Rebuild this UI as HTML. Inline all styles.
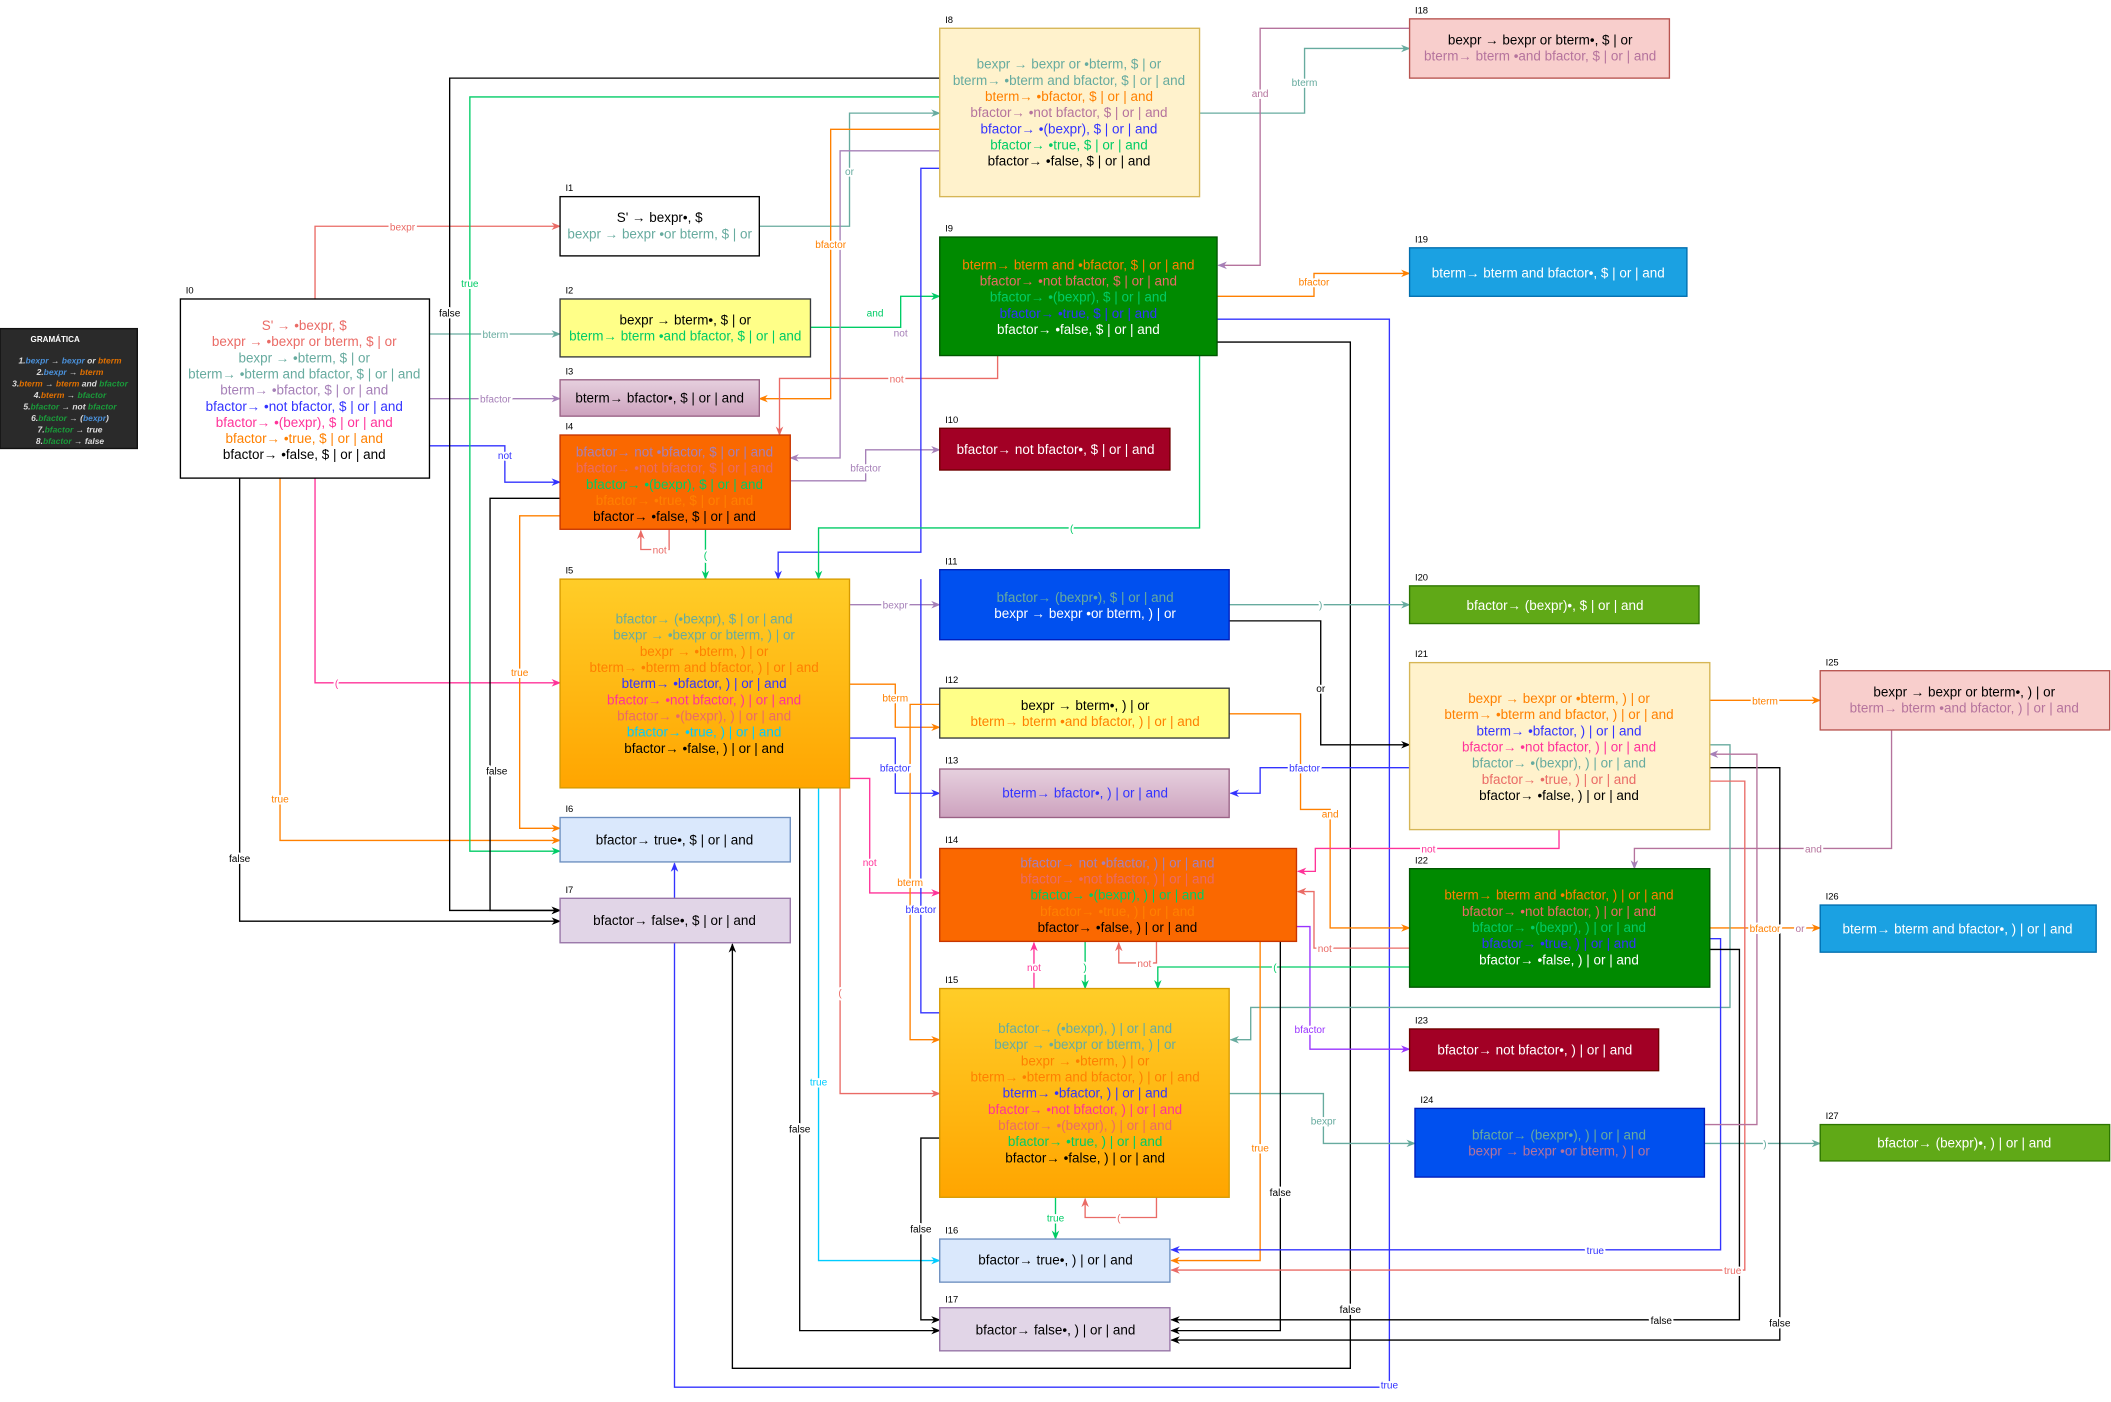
<!DOCTYPE html>
<html><head><meta charset="utf-8"><style>
html,body{margin:0;padding:0;background:#fff;}
svg{display:block;}
text{font-family:"Liberation Sans",sans-serif;}
.bx{font-size:10px;text-anchor:middle;}
.lb{font-size:7px;}
.el{font-size:7.5px;text-anchor:middle;paint-order:stroke;stroke:#fff;stroke-width:3px;stroke-linejoin:round;}
polyline{fill:none;stroke-width:1;}
</style></head><body>
<svg width="2111" height="1402" viewBox="0 0 1568 1041" preserveAspectRatio="none" xmlns="http://www.w3.org/2000/svg">
<defs>
<marker id="aR" viewBox="0 0 10 10" refX="9" refY="5" markerWidth="7" markerHeight="7" orient="auto"><path d="M0,1 L10,5 L0,9 L3,5z" fill="#ea6b66"/></marker>
<marker id="aT" viewBox="0 0 10 10" refX="9" refY="5" markerWidth="7" markerHeight="7" orient="auto"><path d="M0,1 L10,5 L0,9 L3,5z" fill="#67ab9f"/></marker>
<marker id="aP" viewBox="0 0 10 10" refX="9" refY="5" markerWidth="7" markerHeight="7" orient="auto"><path d="M0,1 L10,5 L0,9 L3,5z" fill="#a680b8"/></marker>
<marker id="aB" viewBox="0 0 10 10" refX="9" refY="5" markerWidth="7" markerHeight="7" orient="auto"><path d="M0,1 L10,5 L0,9 L3,5z" fill="#3333ff"/></marker>
<marker id="aK" viewBox="0 0 10 10" refX="9" refY="5" markerWidth="7" markerHeight="7" orient="auto"><path d="M0,1 L10,5 L0,9 L3,5z" fill="#000"/></marker>
<marker id="aO" viewBox="0 0 10 10" refX="9" refY="5" markerWidth="7" markerHeight="7" orient="auto"><path d="M0,1 L10,5 L0,9 L3,5z" fill="#ff8000"/></marker>
<marker id="aG" viewBox="0 0 10 10" refX="9" refY="5" markerWidth="7" markerHeight="7" orient="auto"><path d="M0,1 L10,5 L0,9 L3,5z" fill="#00cc66"/></marker>
<marker id="aK2" viewBox="0 0 10 10" refX="9" refY="5" markerWidth="7" markerHeight="7" orient="auto"><path d="M0,1 L10,5 L0,9 L3,5z" fill="#ff3399"/></marker>
<marker id="aC" viewBox="0 0 10 10" refX="9" refY="5" markerWidth="7" markerHeight="7" orient="auto"><path d="M0,1 L10,5 L0,9 L3,5z" fill="#00ccff"/></marker>
<marker id="aV" viewBox="0 0 10 10" refX="9" refY="5" markerWidth="7" markerHeight="7" orient="auto"><path d="M0,1 L10,5 L0,9 L3,5z" fill="#9933ff"/></marker>
<linearGradient id="gY" x1="0" y1="0" x2="0" y2="1"><stop offset="0" stop-color="#ffcd28"/><stop offset="1" stop-color="#ffa500"/></linearGradient>
<linearGradient id="gP" x1="0" y1="0" x2="0" y2="1"><stop offset="0" stop-color="#e6d0de"/><stop offset="1" stop-color="#cda2be"/></linearGradient>
</defs>

<g>
<polyline points="234,222 234,168 416,168" stroke="#ea6b66" marker-end="url(#aR)"/>
<polyline points="319,248 416,248" stroke="#67ab9f" marker-end="url(#aT)"/>
<polyline points="319,296 416,296" stroke="#a680b8" marker-end="url(#aP)"/>
<polyline points="319,331 375,331 375,358 416,358" stroke="#3333ff" marker-end="url(#aB)"/>
<polyline points="178,355 178,684 416,684" stroke="#000" marker-end="url(#aK)"/>
<polyline points="208,355 208,624 416,624" stroke="#ff8000" marker-end="url(#aO)"/>
<polyline points="234,355 234,507 416,507" stroke="#ff3399" marker-end="url(#aK2)"/>
<polyline points="698,58 334,58 334,676 416,676" stroke="#000" marker-end="url(#aK)"/>
<polyline points="698,72 349,72 349,632 416,632" stroke="#00cc66" marker-end="url(#aG)"/>
<polyline points="564,168 631,168 631,84 698,84" stroke="#67ab9f" marker-end="url(#aT)"/>
<polyline points="698,96 617,96 617,296 564,296" stroke="#ff8000" marker-end="url(#aO)"/>
<polyline points="602,243 669,243 669,220 698,220" stroke="#00cc66" marker-end="url(#aG)"/>
<polyline points="741,264 741,281 579,281 579,323" stroke="#ea6b66" marker-end="url(#aR)"/>
<polyline points="698,112 624,112 624,340 587,340" stroke="#a680b8" marker-end="url(#aP)"/>
<polyline points="587,357 643,357 643,334 698,334" stroke="#a680b8" marker-end="url(#aP)"/>
<polyline points="698,125 684,125 684,410 578,410 578,430" stroke="#3333ff" marker-end="url(#aB)"/>
<polyline points="891,264 891,392 608,392 608,430" stroke="#00cc66" marker-end="url(#aG)"/>
<polyline points="524,393 524,430" stroke="#00cc66" marker-end="url(#aG)"/>
<polyline points="497,393 497,408 476,408 476,394" stroke="#ea6b66" marker-end="url(#aR)"/>
<polyline points="416,370 364,370 364,676 416,676" stroke="#000" marker-end="url(#aK)"/>
<polyline points="416,383 386,383 386,615 416,615" stroke="#ff8000" marker-end="url(#aO)"/>
<polyline points="631,449 698,449" stroke="#a680b8" marker-end="url(#aP)"/>
<polyline points="631,508 665,508 665,540 698,540" stroke="#ff8000" marker-end="url(#aO)"/>
<polyline points="631,548 665,548 665,589 698,589" stroke="#3333ff" marker-end="url(#aB)"/>
<polyline points="631,578 646,578 646,663 698,663" stroke="#ff3399" marker-end="url(#aK2)"/>
<polyline points="608,585 608,936 698,936" stroke="#00ccff" marker-end="url(#aC)"/>
<polyline points="594,585 594,988 698,988" stroke="#000" marker-end="url(#aK)"/>
<polyline points="624,585 624,812 698,812" stroke="#ea6b66" marker-end="url(#aR)"/>
<polyline points="904,254 1003,254 1003,1016 544,1016 544,701" stroke="#000" marker-end="url(#aK)"/>
<polyline points="904,237 1032,237 1032,1030 501,1030 501,641" stroke="#3333ff" marker-end="url(#aB)"/>
<polyline points="891,84 969,84 969,36 1047,36" stroke="#67ab9f" marker-end="url(#aT)"/>
<polyline points="1047,21 936,21 936,197 905,197" stroke="#b5739d" marker-end="url(#aP)"/>
<polyline points="904,220 976,220 976,203 1047,203" stroke="#ff8000" marker-end="url(#aO)"/>
<polyline points="913,449 1047,449" stroke="#67ab9f" marker-end="url(#aT)"/>
<polyline points="913,461 981,461 981,553 1047,553" stroke="#000" marker-end="url(#aK)"/>
<polyline points="913,530 966,530 966,601 988,601 988,689 1047,689" stroke="#ff8000" marker-end="url(#aO)"/>
<polyline points="1047,570 936,570 936,589 914,589" stroke="#3333ff" marker-end="url(#aB)"/>
<polyline points="1158,616 1158,630 977,630 977,647 964,647" stroke="#ff3399" marker-end="url(#aK2)"/>
<polyline points="1047,704 976,704 976,662 964,662" stroke="#ea6b66" marker-end="url(#aR)"/>
<polyline points="963,688 973,688 973,779 1047,779" stroke="#9933ff" marker-end="url(#aV)"/>
<polyline points="913,812 983,812 983,849 1051,849" stroke="#67ab9f" marker-end="url(#aT)"/>
<polyline points="1266,849 1352,849" stroke="#67ab9f" marker-end="url(#aT)"/>
<polyline points="1270,520 1352,520" stroke="#ff8000" marker-end="url(#aO)"/>
<polyline points="1405,542 1405,630 1214,630 1214,645" stroke="#b5739d" marker-end="url(#aP)"/>
<polyline points="1270,689 1352,689" stroke="#ff8000" marker-end="url(#aO)"/>
<polyline points="806,699 806,734" stroke="#00cc66" marker-end="url(#aG)"/>
<polyline points="768,734 768,700" stroke="#ff3399" marker-end="url(#aK2)"/>
<polyline points="859,699 859,715 831,715 831,700" stroke="#ea6b66" marker-end="url(#aR)"/>
<polyline points="1047,718 860,718 860,734" stroke="#00cc66" marker-end="url(#aG)"/>
<polyline points="1270,553 1285,553 1285,748 929,748 929,772 914,772" stroke="#67ab9f" marker-end="url(#aT)"/>
<polyline points="784,889 784,920" stroke="#00cc66" marker-end="url(#aG)"/>
<polyline points="859,889 859,904 806,904 806,890" stroke="#ea6b66" marker-end="url(#aR)"/>
<polyline points="698,845 684,845 684,980 698,980" stroke="#000" marker-end="url(#aK)"/>
<polyline points="936,699 936,936 870,936" stroke="#ff8000" marker-end="url(#aO)"/>
<polyline points="951,699 951,988 870,988" stroke="#000" marker-end="url(#aK)"/>
<polyline points="1270,697 1278,697 1278,928 870,928" stroke="#3333ff" marker-end="url(#aB)"/>
<polyline points="1270,580 1296,580 1296,943 870,943" stroke="#ea6b66" marker-end="url(#aR)"/>
<polyline points="1270,570 1322,570 1322,995 870,995" stroke="#000" marker-end="url(#aK)"/>
<polyline points="1270,705 1292,705 1292,980 870,980" stroke="#000" marker-end="url(#aK)"/>
<polyline points="698,752 684,752 684,430" stroke="#3333ff"/>
<polyline points="698,523 676,523 676,772 698,772" stroke="#ff8000" marker-end="url(#aO)"/>
<polyline points="1266,835 1305,835 1305,560 1270,560" stroke="#b5739d" marker-end="url(#aP)"/>
</g>

<g>
<text class="el" x="299" y="171" fill="#ea6b66">bexpr</text>
<text class="el" x="368" y="251" fill="#67ab9f">bterm</text>
<text class="el" x="368" y="299" fill="#a680b8">bfactor</text>
<text class="el" x="375" y="341" fill="#3333ff">not</text>
<text class="el" x="178" y="640" fill="#000">false</text>
<text class="el" x="208" y="596" fill="#ff8000">true</text>
<text class="el" x="250" y="510" fill="#ff3399">(</text>
<text class="el" x="334" y="235" fill="#000">false</text>
<text class="el" x="349" y="213" fill="#00cc66">true</text>
<text class="el" x="631" y="130" fill="#67ab9f">or</text>
<text class="el" x="617" y="184" fill="#ff8000">bfactor</text>
<text class="el" x="650" y="235" fill="#00cc66">and</text>
<text class="el" x="666" y="284" fill="#ea6b66">not</text>
<text class="el" x="669" y="250" fill="#a680b8">not</text>
<text class="el" x="643" y="350" fill="#a680b8">bfactor</text>
<text class="el" x="796" y="395" fill="#00cc66">(</text>
<text class="el" x="524" y="415" fill="#00cc66">(</text>
<text class="el" x="490" y="411" fill="#ea6b66">not</text>
<text class="el" x="386" y="502" fill="#ff8000">true</text>
<text class="el" x="369" y="575" fill="#000">false</text>
<text class="el" x="665" y="452" fill="#a680b8">bexpr</text>
<text class="el" x="665" y="521" fill="#ff8000">bterm</text>
<text class="el" x="665" y="573" fill="#3333ff">bfactor</text>
<text class="el" x="646" y="643" fill="#ff3399">not</text>
<text class="el" x="608" y="806" fill="#00ccff">true</text>
<text class="el" x="594" y="841" fill="#000">false</text>
<text class="el" x="624" y="740" fill="#ea6b66">(</text>
<text class="el" x="1003" y="975" fill="#000">false</text>
<text class="el" x="1032" y="1031" fill="#3333ff">true</text>
<text class="el" x="969" y="64" fill="#67ab9f">bterm</text>
<text class="el" x="936" y="72" fill="#b5739d">and</text>
<text class="el" x="976" y="212" fill="#ff8000">bfactor</text>
<text class="el" x="981" y="452" fill="#67ab9f">)</text>
<text class="el" x="981" y="514" fill="#000">or</text>
<text class="el" x="988" y="607" fill="#ff8000">and</text>
<text class="el" x="969" y="573" fill="#3333ff">bfactor</text>
<text class="el" x="1061" y="633" fill="#ff3399">not</text>
<text class="el" x="984" y="707" fill="#ea6b66">not</text>
<text class="el" x="973" y="767" fill="#9933ff">bfactor</text>
<text class="el" x="983" y="835" fill="#67ab9f">bexpr</text>
<text class="el" x="1311" y="852" fill="#67ab9f">)</text>
<text class="el" x="1311" y="523" fill="#ff8000">bterm</text>
<text class="el" x="1347" y="633" fill="#b5739d">and</text>
<text class="el" x="1311" y="692" fill="#ff8000">bfactor</text>
<text class="el" x="1337" y="692" fill="#b5739d">or</text>
<text class="el" x="806" y="721" fill="#00cc66">)</text>
<text class="el" x="768" y="721" fill="#ff3399">not</text>
<text class="el" x="850" y="718" fill="#ea6b66">not</text>
<text class="el" x="947" y="721" fill="#00cc66">(</text>
<text class="el" x="784" y="907" fill="#00cc66">true</text>
<text class="el" x="831" y="907" fill="#ea6b66">(</text>
<text class="el" x="684" y="915" fill="#000">false</text>
<text class="el" x="936" y="855" fill="#ff8000">true</text>
<text class="el" x="951" y="888" fill="#000">false</text>
<text class="el" x="1185" y="931" fill="#3333ff">true</text>
<text class="el" x="1287" y="946" fill="#ea6b66">true</text>
<text class="el" x="1322" y="985" fill="#000">false</text>
<text class="el" x="1234" y="983" fill="#000">false</text>
<text class="el" x="684" y="678" fill="#3333ff">bfactor</text>
<text class="el" x="676" y="658" fill="#ff8000">bterm</text>
</g>

<rect x="0" y="244" width="102" height="89" fill="#2a2a2a" stroke="#111"/>
<text x="41" y="254" font-size="6" font-weight="bold" fill="#fff" text-anchor="middle">GRAMÁTICA</text>
<g font-size="6.3" font-family="Liberation Serif,serif" font-style="italic" font-weight="bold" text-anchor="middle">
<text x="52" y="270" fill="#ddd">1.<tspan fill="#4a90d9">bexpr</tspan> → <tspan fill="#4a90d9">bexpr</tspan> or <tspan fill="#e07000">bterm</tspan></text>
<text x="52" y="278.5" fill="#ddd">2.<tspan fill="#4a90d9">bexpr</tspan> → <tspan fill="#e07000">bterm</tspan></text>
<text x="52" y="287" fill="#ddd">3.<tspan fill="#e07000">bterm</tspan> → <tspan fill="#e07000">bterm</tspan> and <tspan fill="#1a9a3a">bfactor</tspan></text>
<text x="52" y="295.5" fill="#ddd">4.<tspan fill="#e07000">bterm</tspan> → <tspan fill="#1a9a3a">bfactor</tspan></text>
<text x="52" y="304" fill="#ddd">5.<tspan fill="#1a9a3a">bfactor</tspan> → not <tspan fill="#1a9a3a">bfactor</tspan></text>
<text x="52" y="312.5" fill="#ddd">6.<tspan fill="#1a9a3a">bfactor</tspan> → (<tspan fill="#4a90d9">bexpr</tspan>)</text>
<text x="52" y="321" fill="#ddd">7.<tspan fill="#1a9a3a">bfactor</tspan> → true</text>
<text x="52" y="329.5" fill="#ddd">8.<tspan fill="#1a9a3a">bfactor</tspan> → false</text>
</g>

<g>
<rect x="134" y="222" width="185" height="133" fill="#fff" stroke="#000"/>
<text class="lb" x="138" y="218">I0</text>
<text class="bx" x="226" y="245"><tspan x="226" fill="#ea6b66">S' → •bexpr, $</tspan><tspan x="226" dy="12" fill="#ea6b66">bexpr → •bexpr or bterm, $ | or</tspan><tspan x="226" dy="12" fill="#67ab9f">bexpr → •bterm, $ | or</tspan><tspan x="226" dy="12" fill="#67ab9f">bterm→ •bterm and bfactor, $ | or | and</tspan><tspan x="226" dy="12" fill="#a680b8">bterm→ •bfactor, $ | or | and</tspan><tspan x="226" dy="12" fill="#3333ff">bfactor→ •not bfactor, $ | or | and</tspan><tspan x="226" dy="12" fill="#ff3399">bfactor→ •(bexpr), $ | or | and</tspan><tspan x="226" dy="12" fill="#ff8000">bfactor→ •true, $ | or | and</tspan><tspan x="226" dy="12" fill="#000">bfactor→ •false, $ | or | and</tspan></text>

<rect x="416" y="146" width="148" height="44" fill="#fff" stroke="#000"/>
<text class="lb" x="420" y="142">I1</text>
<text class="bx" x="490" y="165"><tspan x="490" fill="#000">S' → bexpr•, $</tspan><tspan x="490" dy="12" fill="#67ab9f">bexpr → bexpr •or bterm, $ | or</tspan></text>

<rect x="416" y="222" width="186" height="43" fill="#ffff88" stroke="#36393d"/>
<text class="lb" x="420" y="218">I2</text>
<text class="bx" x="509" y="241"><tspan x="509" fill="#000">bexpr → bterm•, $ | or</tspan><tspan x="509" dy="12" fill="#00cc66">bterm→ bterm •and bfactor, $ | or | and</tspan></text>

<rect x="416" y="282" width="148" height="27" fill="url(#gP)" stroke="#996185"/>
<text class="lb" x="420" y="278">I3</text>
<text class="bx" x="490" y="299" fill="#000">bterm→ bfactor•, $ | or | and</text>

<rect x="416" y="323" width="171" height="70" fill="#fa6800" stroke="#c73500"/>
<text class="lb" x="420" y="319">I4</text>
<text class="bx" x="501" y="339"><tspan x="501" fill="#a680b8">bfactor→ not •bfactor, $ | or | and</tspan><tspan x="501" dy="12" fill="#ea6b66">bfactor→ •not bfactor, $ | or | and</tspan><tspan x="501" dy="12" fill="#00cc66">bfactor→ •(bexpr), $ | or | and</tspan><tspan x="501" dy="12" fill="#ff8000">bfactor→ •true, $ | or | and</tspan><tspan x="501" dy="12" fill="#000">bfactor→ •false, $ | or | and</tspan></text>

<rect x="416" y="430" width="215" height="155" fill="url(#gY)" stroke="#d79b00"/>
<text class="lb" x="420" y="426">I5</text>
<text class="bx" x="523" y="463"><tspan x="523" fill="#67ab9f">bfactor→ (•bexpr), $ | or | and</tspan><tspan x="523" dy="12" fill="#67ab9f">bexpr → •bexpr or bterm, ) | or</tspan><tspan x="523" dy="12" fill="#ff8000">bexpr → •bterm, ) | or</tspan><tspan x="523" dy="12" fill="#ff8000">bterm→ •bterm and bfactor, ) | or | and</tspan><tspan x="523" dy="12" fill="#3333ff">bterm→ •bfactor, ) | or | and</tspan><tspan x="523" dy="12" fill="#ff3399">bfactor→ •not bfactor, ) | or | and</tspan><tspan x="523" dy="12" fill="#ea6b66">bfactor→ •(bexpr), ) | or | and</tspan><tspan x="523" dy="12" fill="#00ccff">bfactor→ •true, ) | or | and</tspan><tspan x="523" dy="12" fill="#000">bfactor→ •false, ) | or | and</tspan></text>

<rect x="416" y="607" width="171" height="33" fill="#dae8fc" stroke="#6c8ebf"/>
<text class="lb" x="420" y="603">I6</text>
<text class="bx" x="501" y="627" fill="#000">bfactor→ true•, $ | or | and</text>

<rect x="416" y="667" width="171" height="33" fill="#e1d5e7" stroke="#9673a6"/>
<text class="lb" x="420" y="663">I7</text>
<text class="bx" x="501" y="687" fill="#000">bfactor→ false•, $ | or | and</text>

<rect x="698" y="21" width="193" height="125" fill="#fff2cc" stroke="#d6b656"/>
<text class="lb" x="702" y="17">I8</text>
<text class="bx" x="794" y="51"><tspan x="794" fill="#67ab9f">bexpr → bexpr or •bterm, $ | or</tspan><tspan x="794" dy="12" fill="#67ab9f">bterm→ •bterm and bfactor, $ | or | and</tspan><tspan x="794" dy="12" fill="#ff8000">bterm→ •bfactor, $ | or | and</tspan><tspan x="794" dy="12" fill="#b5739d">bfactor→ •not bfactor, $ | or | and</tspan><tspan x="794" dy="12" fill="#3333ff">bfactor→ •(bexpr), $ | or | and</tspan><tspan x="794" dy="12" fill="#00cc66">bfactor→ •true, $ | or | and</tspan><tspan x="794" dy="12" fill="#000">bfactor→ •false, $ | or | and</tspan></text>

<rect x="698" y="176" width="206" height="88" fill="#008a00" stroke="#005700"/>
<text class="lb" x="702" y="172">I9</text>
<text class="bx" x="801" y="200"><tspan x="801" fill="#ff8000">bterm→ bterm and •bfactor, $ | or | and</tspan><tspan x="801" dy="12" fill="#ea6b66">bfactor→ •not bfactor, $ | or | and</tspan><tspan x="801" dy="12" fill="#00cc66">bfactor→ •(bexpr), $ | or | and</tspan><tspan x="801" dy="12" fill="#3333ff">bfactor→ •true, $ | or | and</tspan><tspan x="801" dy="12" fill="#fff">bfactor→ •false, $ | or | and</tspan></text>

<rect x="698" y="318" width="171" height="31" fill="#a20025" stroke="#6f0000"/>
<text class="lb" x="702" y="314">I10</text>
<text class="bx" x="784" y="337" fill="#fff">bfactor→ not bfactor•, $ | or | and</text>

<rect x="698" y="423" width="215" height="52" fill="#0050ef" stroke="#001dbc"/>
<text class="lb" x="702" y="419">I11</text>
<text class="bx" x="806" y="447"><tspan x="806" fill="#67ab9f">bfactor→ (bexpr•), $ | or | and</tspan><tspan x="806" dy="12" fill="#fff">bexpr → bexpr •or bterm, ) | or</tspan></text>

<rect x="698" y="511" width="215" height="37" fill="#ffff88" stroke="#36393d"/>
<text class="lb" x="702" y="507">I12</text>
<text class="bx" x="806" y="527"><tspan x="806" fill="#000">bexpr → bterm•, ) | or</tspan><tspan x="806" dy="12" fill="#ff8000">bterm→ bterm •and bfactor, ) | or | and</tspan></text>

<rect x="698" y="571" width="215" height="36" fill="url(#gP)" stroke="#996185"/>
<text class="lb" x="702" y="567">I13</text>
<text class="bx" x="806" y="592" fill="#3333ff">bterm→ bfactor•, ) | or | and</text>

<rect x="698" y="630" width="265" height="69" fill="#fa6800" stroke="#c73500"/>
<text class="lb" x="702" y="626">I14</text>
<text class="bx" x="830" y="644"><tspan x="830" fill="#a680b8">bfactor→ not •bfactor, ) | or | and</tspan><tspan x="830" dy="12" fill="#ea6b66">bfactor→ •not bfactor, ) | or | and</tspan><tspan x="830" dy="12" fill="#00cc66">bfactor→ •(bexpr), ) | or | and</tspan><tspan x="830" dy="12" fill="#ff8000">bfactor→ •true, ) | or | and</tspan><tspan x="830" dy="12" fill="#000">bfactor→ •false, ) | or | and</tspan></text>

<rect x="698" y="734" width="215" height="155" fill="url(#gY)" stroke="#d79b00"/>
<text class="lb" x="702" y="730">I15</text>
<text class="bx" x="806" y="767"><tspan x="806" fill="#67ab9f">bfactor→ (•bexpr), ) | or | and</tspan><tspan x="806" dy="12" fill="#67ab9f">bexpr → •bexpr or bterm, ) | or</tspan><tspan x="806" dy="12" fill="#ff8000">bexpr → •bterm, ) | or</tspan><tspan x="806" dy="12" fill="#ff8000">bterm→ •bterm and bfactor, ) | or | and</tspan><tspan x="806" dy="12" fill="#3333ff">bterm→ •bfactor, ) | or | and</tspan><tspan x="806" dy="12" fill="#ff3399">bfactor→ •not bfactor, ) | or | and</tspan><tspan x="806" dy="12" fill="#ea6b66">bfactor→ •(bexpr), ) | or | and</tspan><tspan x="806" dy="12" fill="#00cc66">bfactor→ •true, ) | or | and</tspan><tspan x="806" dy="12" fill="#000">bfactor→ •false, ) | or | and</tspan></text>

<rect x="698" y="920" width="171" height="32" fill="#dae8fc" stroke="#6c8ebf"/>
<text class="lb" x="702" y="916">I16</text>
<text class="bx" x="784" y="939" fill="#000">bfactor→ true•, ) | or | and</text>

<rect x="698" y="971" width="171" height="32" fill="#e1d5e7" stroke="#9673a6"/>
<text class="lb" x="702" y="967">I17</text>
<text class="bx" x="784" y="991" fill="#000">bfactor→ false•, ) | or | and</text>

<rect x="1047" y="14" width="193" height="44" fill="#f8cecc" stroke="#b85450"/>
<text class="lb" x="1051" y="10">I18</text>
<text class="bx" x="1144" y="33"><tspan x="1144" fill="#000">bexpr → bexpr or bterm•, $ | or</tspan><tspan x="1144" dy="12" fill="#b5739d">bterm→ bterm •and bfactor, $ | or | and</tspan></text>

<rect x="1047" y="184" width="206" height="36" fill="#1ba1e2" stroke="#006eaf"/>
<text class="lb" x="1051" y="180">I19</text>
<text class="bx" x="1150" y="206" fill="#fff">bterm→ bterm and bfactor•, $ | or | and</text>

<rect x="1047" y="435" width="215" height="28" fill="#60a917" stroke="#2d7600"/>
<text class="lb" x="1051" y="431">I20</text>
<text class="bx" x="1155" y="453" fill="#fff">bfactor→ (bexpr)•, $ | or | and</text>

<rect x="1047" y="492" width="223" height="124" fill="#fff2cc" stroke="#d6b656"/>
<text class="lb" x="1051" y="488">I21</text>
<text class="bx" x="1158" y="522"><tspan x="1158" fill="#ff8000">bexpr → bexpr or •bterm, ) | or</tspan><tspan x="1158" dy="12" fill="#ff8000">bterm→ •bterm and bfactor, ) | or | and</tspan><tspan x="1158" dy="12" fill="#3333ff">bterm→ •bfactor, ) | or | and</tspan><tspan x="1158" dy="12" fill="#ff3399">bfactor→ •not bfactor, ) | or | and</tspan><tspan x="1158" dy="12" fill="#67ab9f">bfactor→ •(bexpr), ) | or | and</tspan><tspan x="1158" dy="12" fill="#ea6b66">bfactor→ •true, ) | or | and</tspan><tspan x="1158" dy="12" fill="#000">bfactor→ •false, ) | or | and</tspan></text>

<rect x="1047" y="645" width="223" height="88" fill="#008a00" stroke="#005700"/>
<text class="lb" x="1051" y="641">I22</text>
<text class="bx" x="1158" y="668"><tspan x="1158" fill="#ff8000">bterm→ bterm and •bfactor, ) | or | and</tspan><tspan x="1158" dy="12" fill="#ea6b66">bfactor→ •not bfactor, ) | or | and</tspan><tspan x="1158" dy="12" fill="#00cc66">bfactor→ •(bexpr), ) | or | and</tspan><tspan x="1158" dy="12" fill="#3333ff">bfactor→ •true, ) | or | and</tspan><tspan x="1158" dy="12" fill="#fff">bfactor→ •false, ) | or | and</tspan></text>

<rect x="1047" y="764" width="185" height="31" fill="#a20025" stroke="#6f0000"/>
<text class="lb" x="1051" y="760">I23</text>
<text class="bx" x="1140" y="783" fill="#fff">bfactor→ not bfactor•, ) | or | and</text>

<rect x="1051" y="823" width="215" height="51" fill="#0050ef" stroke="#001dbc"/>
<text class="lb" x="1055" y="819">I24</text>
<text class="bx" x="1158" y="846"><tspan x="1158" fill="#67ab9f">bfactor→ (bexpr•), ) | or | and</tspan><tspan x="1158" dy="12" fill="#b5739d">bexpr → bexpr •or bterm, ) | or</tspan></text>

<rect x="1352" y="498" width="215" height="44" fill="#f8cecc" stroke="#b85450"/>
<text class="lb" x="1356" y="494">I25</text>
<text class="bx" x="1459" y="517"><tspan x="1459" fill="#000">bexpr → bexpr or bterm•, ) | or</tspan><tspan x="1459" dy="12" fill="#b5739d">bterm→ bterm •and bfactor, ) | or | and</tspan></text>

<rect x="1352" y="672" width="205" height="35" fill="#1ba1e2" stroke="#006eaf"/>
<text class="lb" x="1356" y="668">I26</text>
<text class="bx" x="1454" y="693" fill="#fff">bterm→ bterm and bfactor•, ) | or | and</text>

<rect x="1352" y="835" width="215" height="27" fill="#60a917" stroke="#2d7600"/>
<text class="lb" x="1356" y="831">I27</text>
<text class="bx" x="1459" y="852" fill="#fff">bfactor→ (bexpr)•, ) | or | and</text>
</g>
</svg>
</body></html>
